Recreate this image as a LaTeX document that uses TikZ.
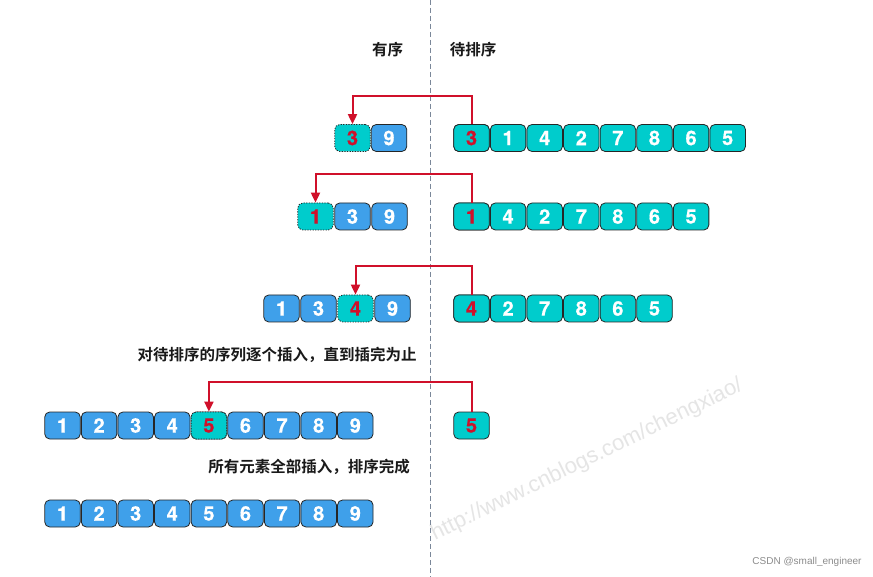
\documentclass[tikz,border=0pt]{standalone}
\usepackage{fontspec}
\setmainfont{Liberation Sans}
\newfontfamily\numfont{texgyreheros-bold.otf}[FakeBold=0.6]
\newfontfamily\cjk{Noto Sans CJK SC}[BoldFont={Noto Sans CJK SC Bold}]
\usetikzlibrary{arrows.meta}
\definecolor{sblue}{HTML}{3FA0EA}
\definecolor{steal}{HTML}{00CCCC}
\definecolor{ired}{HTML}{D0102A}
\definecolor{dline}{HTML}{7A8799}
\tikzset{
  cell/.style={draw=black!85, line width=0.8pt, rounded corners=5pt,
    minimum width=35.5pt, minimum height=27pt, inner sep=0pt,
    font=\numfont\fontsize{20}{20}\selectfont, text=white},
  sorted/.style={cell, fill=sblue},
  unsorted/.style={cell, fill=steal},
  ins/.style={cell, fill=steal, dash pattern=on 1.3pt off 1.3pt, text=ired},
  pick/.style={text=ired},
  move/.style={draw=ired, color=ired, line width=2pt, -{Triangle[length=10pt,width=9pt]}},
  divider/.style={draw=dline, line width=1pt, dash pattern=on 5pt off 3pt},
  head/.style={font=\cjk\bfseries\fontsize{15.5}{16}\selectfont, text=black!90},
  note/.style={font=\cjk\bfseries\fontsize{15.5}{16}\selectfont, text=black!90},
}
\begin{document}
\begin{tikzpicture}[x=1pt,y=-1pt]
\fill[white] (0,0) rectangle (873,577);
\useasboundingbox (0,0) rectangle (873,577);

% watermark
\node[rotate=26, text=black!10, font=\fontsize{22}{22}\selectfont] (wm) at (587,460) {http://www.cnblogs.com/chengxiao/};

% divider
\coordinate (dtop) at (430,0);
\coordinate (dbot) at (430,577);
\draw[divider] (dtop) -- (dbot);

% headers
\node[head] (h1) at (387.5,50) {有序};
\node[head] (h2) at (473,50) {待排序};

% ---- Row 1
\node[ins] (a1) at (352.5,138) {3};
\node[sorted] (a2) at (389,138) {9};
\foreach \d [count=\i from 0] in {3,1,4,2,7,8,6,5}
  \node[unsorted] (ar\i) at (471.5+36.6*\i,138) {\d};
\node[unsorted,pick] at (ar0) {3};

% ---- Row 2
\node[ins] (b1) at (315.5,216.5) {1};
\node[sorted] (b2) at (352.5,216.5) {3};
\node[sorted] (b3) at (389.5,216.5) {9};
\foreach \d [count=\i from 0] in {1,4,2,7,8,6,5}
  \node[unsorted] (br\i) at (471.5+36.6*\i,216.5) {\d};
\node[unsorted,pick] at (br0) {1};

% ---- Row 3
\node[sorted] (c1) at (281.5,308.5) {1};
\node[sorted] (c2) at (318.5,308.5) {3};
\node[ins] (c3) at (355.5,308.5) {4};
\node[sorted] (c4) at (392.5,308.5) {9};
\foreach \d [count=\i from 0] in {4,2,7,8,6,5}
  \node[unsorted] (cr\i) at (471.5+36.6*\i,308.5) {\d};
\node[unsorted,pick] at (cr0) {4};

\node[note] (n1) at (277,355) {对待排序的序列逐个插入，直到插完为止};

% ---- Row 4
\foreach \d [count=\i from 0] in {1,2,3,4,5,6,7,8,9}
  \node[sorted] (d\i) at (62.5+36.6*\i,425.5) {\d};
\node[ins] at (d4) {5};
\node[unsorted,pick] (dr0) at (471.5,425.5) {5};

\node[note] (n2) at (309,467) {所有元素全部插入，排序完成};

% ---- Row 5
\foreach \d [count=\i from 0] in {1,2,3,4,5,6,7,8,9}
  \node[sorted] (e\i) at (62.5+36.6*\i,513.5) {\d};

% insertion arrows
\draw[move] (ar0.north) -- ++(0,-28.5) -| (a1.north);
\draw[move] (br0.north) -- ++(0,-29) -| (b1.north);
\draw[move] (cr0.north) -- ++(0,-29) -| (c3.north);
\draw[move] (dr0.north) -- ++(0,-30) -| (d4.north);

% credit
\node[text=black!45, font=\fontsize{10}{10}\selectfont] (cs) at (807,562) {CSDN @small\_engineer};
\end{tikzpicture}
\end{document}
